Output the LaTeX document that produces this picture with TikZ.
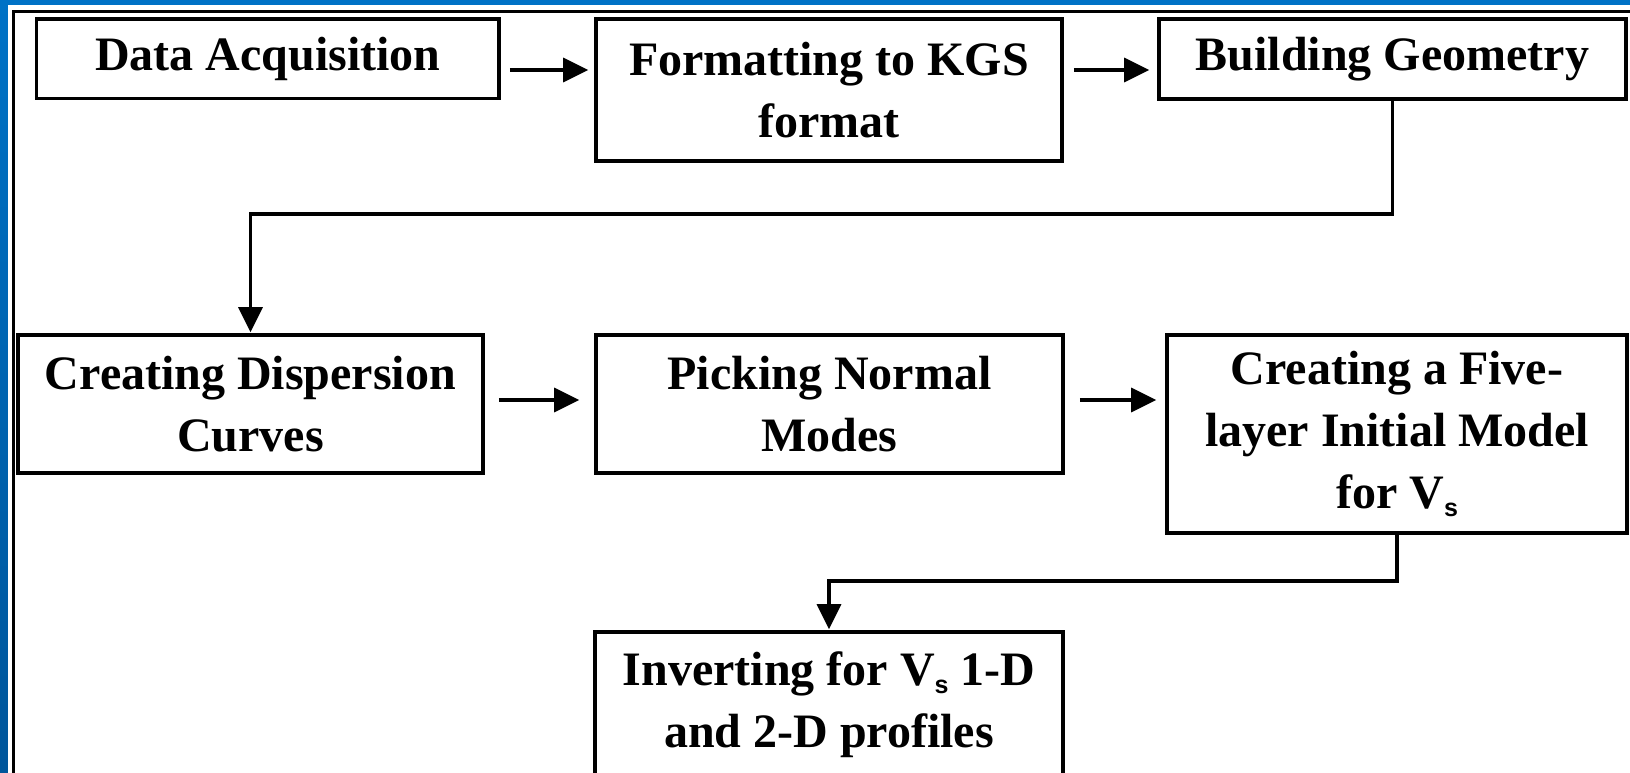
\documentclass[tikz,border=0pt]{standalone}
\usepackage{fontspec}
\setmainfont{Liberation Serif}
\newfontfamily\subfont{Liberation Sans}
\usetikzlibrary{arrows.meta}
% V with a small sans-serif subscript s
\newcommand\vsub{V\raisebox{-8pt}{\fontsize{25}{25}\selectfont\subfont\bfseries s}}
\definecolor{frameTop}{RGB}{0,114,198}
\definecolor{frameBot}{RGB}{0,86,155}
\tikzset{
  box/.style={draw, rectangle, line width=3.6pt, inner sep=0pt, align=center,
              font=\fontsize{48}{62}\selectfont\bfseries},
  conn/.style={line width=3.4pt, -{Triangle[length=25pt,width=24pt]}},
}
\begin{document}
\begin{tikzpicture}[x=1pt, y=-1pt]
  \useasboundingbox (0,0) rectangle (1630,772);
  % blue outer frame, white page and black inner rule
  \shade[top color=frameTop, bottom color=frameBot] (0,0) rectangle (1630,772);
  \fill[white] (8,5) rectangle (1650,790);
  \draw[line width=3.5pt] (13.5,800) -- (13.5,11.5) -- (1660,11.5);

  % process boxes
  \node[box, minimum width=462.5pt, minimum height=79.5pt] (b1) at (267.75,58.75) {Data Acquisition};
  \node[box, minimum width=466pt, minimum height=142pt] (b2) at (829,90) {Formatting to KGS\\format};
  \node[box, minimum width=467pt, minimum height=80pt] (b3) at (1392.5,59) {Building Geometry};
  \node[box, minimum width=465pt, minimum height=138pt] (b4) at (250.5,404) {Creating Dispersion\\Curves};
  \node[box, minimum width=467pt, minimum height=138pt] (b5) at (829.5,404) {Picking Normal\\Modes};
  \node[box, minimum width=460pt, minimum height=198pt] (b6) at (1397,434) {Creating a Five-\\layer Initial Model\\for \vsub};
  \node[box, minimum width=468pt, minimum height=146pt] (b7) at (829,705) {Inverting for \vsub\ 1-D\\and 2-D profiles};

  % rows of the horizontal links
  \coordinate (r1) at (0,70);
  \coordinate (r2) at (0,400);
  \coordinate (t1) at (0,214);
  \coordinate (t2) at (0,581);

  % connectors
  \draw[conn, shorten <=9pt, shorten >=6pt] (b1.east |- r1) -- (b2.west |- r1);
  \draw[conn, shorten <=10pt, shorten >=8pt] (b2.east |- r1) -- (b3.west |- r1);
  \draw[conn, shorten <=14pt, shorten >=15pt] (b4.east |- r2) -- (b5.west |- r2);
  \draw[conn, shorten <=15pt, shorten >=9pt] (b5.east |- r2) -- (b6.west |- r2);
  \draw[conn, shorten >=1pt] (b3.south) -- (b3.south |- t1) -| (b4.north);
  \draw[conn, shorten >=1pt] (b6.south) -- (b6.south |- t2) -| (b7.north);
\end{tikzpicture}
\end{document}
